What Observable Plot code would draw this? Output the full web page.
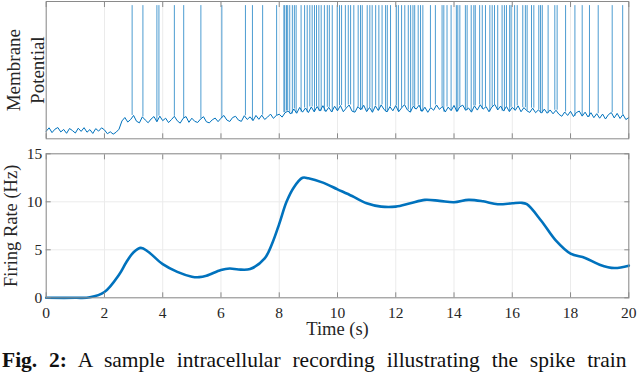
<!DOCTYPE html>
<html><head><meta charset="utf-8">
<script src="https://cdn.jsdelivr.net/npm/d3@7"></script>
<script src="https://cdn.jsdelivr.net/npm/@observablehq/plot@0.6"></script>
<style>
html,body{margin:0;padding:0;background:#fff;}
#wrap{position:relative;width:640px;height:372px;overflow:hidden;background:#fff;}
#top{position:absolute;left:0;top:0;}
#bot{position:absolute;left:0;top:140px;}
#cap{position:absolute;left:2px;top:349.5px;font-family:"Liberation Serif",serif;font-size:21.5px;line-height:21.5px;white-space:nowrap;color:#111;word-spacing:6.5px;}
</style></head><body>
<div id="wrap"><div id="top"></div><div id="bot"></div>
<div id="cap"><b>Fig. 2:</b> A sample intracellular recording illustrating the spike train</div></div>
<script>
// membrane potential baseline, one sample every 0.1 s from 0 to 20 s (arbitrary mV)
const sampleStep = 0.1;
const membrane = [
-64.5,-62.0,-65.5,-63.0,-61.8,-65.0,-63.2,-66.0,-62.5,-64.0,-65.8,-62.3,-64.6,-61.9,-65.2,-63.3,-66.1,-62.6,-64.4,-62.0,-63.5,-66.3,-64.9,-66.6,-65.2,-63.0,
-57.0,-54.5,-57.8,-55.9,-53.0,-57.2,-58.4,-54.0,-56.3,-58.3,
-55.6,-53.8,-57.6,-53.5,-56.8,-55.0,-58.2,-56.0,-53.6,-56.9,
-58.6,-55.1,-53.8,-58.0,-55.0,-57.3,-58.1,-55.6,-53.9,-57.6,
-58.4,-56.2,-54.9,-57.5,-55.0,-53.0,-56.3,-57.4,-54.5,-53.6,
-56.4,-57.3,-53.2,-55.9,-54.0,-56.8,-53.0,-55.8,-52.8,-55.9,
-54.2,-52.0,-55.1,-53.0,-52.1,
-54.2,-51.0,-49.8,-51.9,-48.3,-51.4,-47.2,-50.6,-47.6,-50.9,-46.8,-50.4,-46.5,-49.8,-45.9,-50.2,-47.1,-50.5,-46.3,-49.6,
-45.8,-50.3,-47.6,-45.4,-49.9,-50.6,-46.5,-48.9,-45.6,-50.2,
-47.2,-50.7,-46.1,-49.4,-45.3,-48.7,-50.4,-46.6,-49.6,-45.8,
-50.3,-47.5,-45.1,-49.0,-50.6,-46.3,-48.4,-45.5,-50.1,-47.0,
-50.7,-47.3,-49.2,-45.4,-48.6,-46.4,-50.5,-46.9,-49.5,-45.7,
-50.2,-46.7,-45.5,-49.3,-47.6,-50.6,-46.0,-49.1,-45.2,-48.4,
-46.5,-50.3,-46.9,-45.0,-49.0,-46.2,-49.8,-46.4,-50.2,-47.1,
-49.3,-46.0,-50.3,-47.3,-49.6,-50.8,-47.7,-51.0,-48.9,-51.3,
-48.4,-51.4,-49.0,-51.8,-49.2,-52.1,-53.6,-50.5,-53.0,-50.0,
-53.8,-50.9,-49.8,-53.5,-50.6,-54.1,-51.0,-54.6,-51.7,-55.0,
-52.0,-55.6,-52.4,-50.9,-54.8,-51.5,-55.2,-52.3,-56.0,-54.5
];
// spike times (s) and spike peak (mV)
const spikeTimes = [2.95,3.32,3.80,3.87,4.40,4.72,5.31,6.03,6.84,7.08,7.43,7.91,
8.16,8.19,8.25,8.29,8.36,8.45,8.52,8.58,8.75,8.87,8.96,9.05,9.13,9.21,9.28,9.36,9.44,9.55,9.65,
9.72,9.82,9.99,10.07,10.14,10.27,10.37,10.45,10.56,10.71,10.79,10.85,11.02,11.11,11.19,11.31,11.42,11.53,11.65,11.71,11.82,12.02,12.09,12.20,12.31,12.43,12.51,12.59,12.65,12.77,12.85,12.93,
13.19,13.36,13.59,13.65,13.76,13.90,14.08,14.13,14.20,14.39,14.45,14.59,14.68,14.73,14.88,14.97,15.08,15.23,15.31,15.39,15.50,15.65,15.73,15.80,15.91,15.96,16.08,16.17,
16.36,16.45,16.51,16.66,16.74,16.91,16.97,17.03,17.23,17.46,17.54,17.83,18.15,18.40,18.65,18.95,19.43,19.79];
const spikePeak = 27;
// firing rate
const rateTime = [0,1,1.5,2,2.5,2.75,3,3.25,3.5,4,4.5,5,5.25,5.5,6,6.3,6.6,7,7.5,7.75,8,8.25,8.5,8.8,9,9.5,10,10.5,11,11.5,12,12.5,13,13.5,14,14.5,15,15.5,16,16.3,16.5,17,17.5,18,18.5,19,19.5,20];
const rateHz   = [0,0,0.05,0.6,2.4,3.7,4.75,5.2,4.8,3.5,2.7,2.2,2.15,2.3,2.9,3.05,2.95,3.0,4.1,5.6,7.7,10.0,11.5,12.5,12.45,12.0,11.3,10.6,9.85,9.5,9.5,9.85,10.2,10.1,9.95,10.2,10.05,9.75,9.85,9.9,9.75,8.0,5.95,4.6,4.15,3.45,3.1,3.35];
const xTicks = [0,2,4,6,8,10,12,14,16,18,20];
const yTicks = [0,5,10,15];

const trace = membrane.map((v, i) => ({t: i * sampleStep, v}));
const spikes = spikeTimes.map(t => ({t, base: membrane[Math.round(t / sampleStep)], peak: spikePeak}));
const rate = rateTime.map((t, i) => ({t, hz: rateHz[i]}));

const blue = "#0072BD", axisColor = "#8a8a8a", gridColor = "#ebebeb", txt = "#262626";
const font = "Liberation Serif";

const topPlot = Plot.plot({
  width: 640, height: 140, marginLeft: 45.7, marginRight: 11.7, marginTop: 1, marginBottom: 1.7,
  style: {fontFamily: font, background: "transparent", overflow: "visible"},
  x: {domain: [0, 20]}, y: {domain: [-70, 30], axis: null},
  marks: [
    Plot.gridX(xTicks, {stroke: gridColor, strokeOpacity: 1}),
    Plot.line(trace, {x: "t", y: "v", stroke: blue, strokeWidth: 1}),
    Plot.ruleX(spikes, {x: "t", y1: "base", y2: "peak", stroke: blue, strokeWidth: 1, strokeOpacity: 0.7}),
    Plot.axisX(xTicks, {anchor: "bottom", tickSize: -5, tickFormat: () => "", stroke: axisColor, label: null}),
    Plot.axisX(xTicks, {anchor: "top", tickSize: -5, tickFormat: () => "", stroke: axisColor, label: null}),
    Plot.frame({stroke: axisColor}),
    Plot.text(["Membrane\nPotential"], {text: d => d, frameAnchor: "left", dx: -21.7, rotate: -90, lineHeight: 1.26, fontSize: 19, textAnchor: "middle", lineAnchor: "middle", fill: txt})
  ]
});
document.getElementById("top").append(topPlot);

const botPlot = Plot.plot({
  width: 640, height: 200, marginLeft: 45.7, marginRight: 11.7, marginTop: 13.3, marginBottom: 42.7,
  style: {fontFamily: font, fontSize: "15.5px", color: txt, background: "transparent", overflow: "visible"},
  x: {domain: [0, 20]}, y: {domain: [0, 15]},
  marks: [
    Plot.gridX(xTicks, {stroke: gridColor, strokeOpacity: 1}),
    Plot.gridY(yTicks, {stroke: gridColor, strokeOpacity: 1}),
    Plot.line(rate, {x: "t", y: "hz", stroke: blue, strokeWidth: 2.6, curve: "catmull-rom"}),
    Plot.axisX(xTicks, {anchor: "bottom", tickSize: 0, tickPadding: 9, label: null, fill: txt}),
    Plot.axisX(xTicks, {anchor: "bottom", tickSize: -5, tickFormat: () => "", stroke: axisColor, label: null}),
    Plot.axisX(xTicks, {anchor: "top", tickSize: -5, tickFormat: () => "", stroke: axisColor, label: null}),
    Plot.axisY(yTicks, {anchor: "left", tickSize: 0, tickPadding: 4, label: null, fill: txt}),
    Plot.axisY(yTicks, {anchor: "left", tickSize: -5, tickFormat: () => "", stroke: axisColor, label: null}),
    Plot.axisY(yTicks, {anchor: "right", tickSize: -5, tickFormat: () => "", stroke: axisColor, label: null}),
    Plot.frame({stroke: axisColor}),
    Plot.text(["Firing Rate (Hz)"], {text: d => d, frameAnchor: "left", dx: -34.7, rotate: -90, fontSize: 18.5, textAnchor: "middle", lineAnchor: "middle", fill: txt}),
    Plot.text(["Time (s)"], {text: d => d, frameAnchor: "bottom", dy: 31.7, fontSize: 18.5, lineAnchor: "middle", fill: txt})
  ]
});
document.getElementById("bot").append(botPlot);
</script>
</body></html>
